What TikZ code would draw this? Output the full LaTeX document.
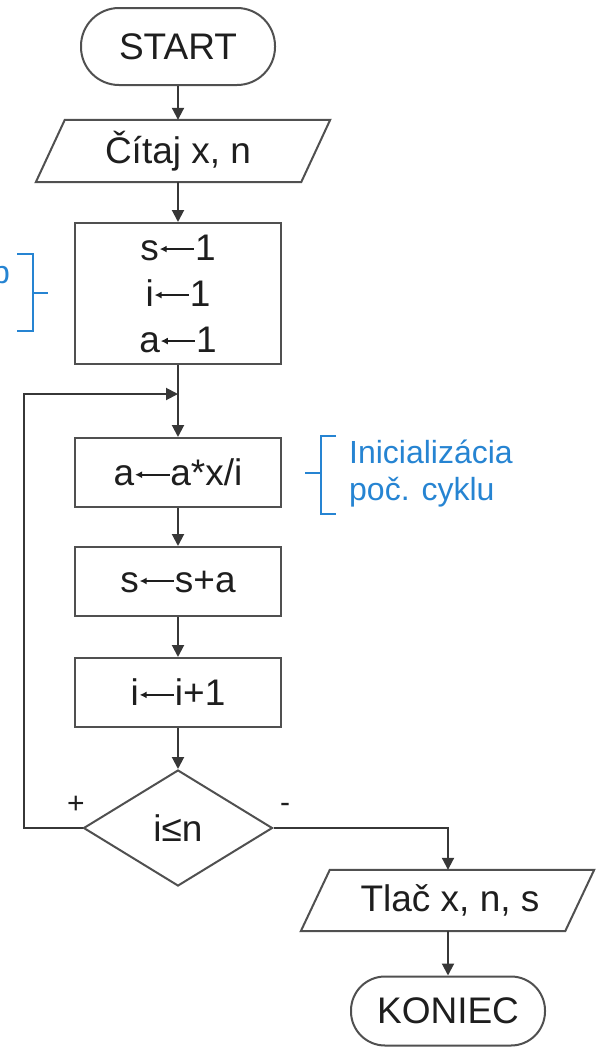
\documentclass[tikz,border=0pt]{standalone}
\usepackage{fontspec}
\setmainfont{Liberation Sans}
\usetikzlibrary{arrows.meta,shapes.geometric,calc}
\definecolor{lncol}{RGB}{55,55,55}
\definecolor{bxcol}{RGB}{80,80,80}
\definecolor{txcol}{RGB}{30,30,30}
\definecolor{ancol}{RGB}{38,132,210}
\newcommand\FMain{\fontsize{37}{46}\selectfont}
\newcommand\FAnn{\fontsize{32}{38}\selectfont}
\newcommand\LArr{\tikz[baseline=0pt,x=1pt,y=1pt]\draw[draw=txcol,line width=1.6pt,{Latex[length=7pt,width=7pt]}-] (0.5,11) -- (35,11);}
\begin{document}
\begin{tikzpicture}[x=1pt,y=-1pt,
  every node/.style={text=txcol,font=\FMain,inner sep=0pt},
  procbox/.style={draw=bxcol,line width=2pt,rectangle,minimum width=206pt,minimum height=69pt},
  termbox/.style={draw=bxcol,line width=2pt,rectangle,minimum width=194pt},
  iobox/.style={rectangle,minimum width=265pt,minimum height=62pt},
  ioline/.style={draw=bxcol,line width=2pt,line join=miter},
  decbox/.style={draw=bxcol,line width=2pt,diamond,minimum width=189pt,minimum height=116pt},
  arr/.style={draw=lncol,line width=2pt,-{Triangle[length=12pt,width=12pt]}},
  plain/.style={draw=lncol,line width=2pt},
  annline/.style={draw=ancol,line width=1.6pt},
  anntext/.style={text=ancol,font=\FAnn}]
\useasboundingbox (0,0) rectangle (596,1053);
% nodes
\node[termbox,minimum height=77pt,rounded corners=38pt] (start) at (178,46.5) {START};
\node[iobox] (read) at (178,151) {Čítaj x, n};
\draw[ioline] ($(read.north west)+(19.5,0)$) -- ($(read.north east)+(19.5,0)$)
  -- ($(read.south east)+(-9.5,0)$) -- ($(read.south west)+(-9.5,0)$) -- cycle;
\node[procbox,minimum height=141pt,align=center] (init) at (178,293.5) {s\LArr1\\i\LArr1\\a\LArr1};
\node[procbox] (calc) at (178,472.5) {a\LArr a*x/i};
\node[procbox] (sum) at (178,581.5) {s\LArr s+a};
\node[procbox] (inc) at (178,692.5) {i\LArr i+1};
\node[decbox] (dec) at (178,828) {i≤n};
\node[iobox,minimum width=264pt,minimum height=61pt] (print) at (450,900.5) {Tlač x, n, s};
\draw[ioline] ($(print.north west)+(12,0)$) -- ($(print.north east)+(12,0)$)
  -- ($(print.south east)+(-17,0)$) -- ($(print.south west)+(-17,0)$) -- cycle;
\node[termbox,minimum height=69pt,rounded corners=34pt] (stop) at (448,1011) {KONIEC};
% labels
\node[font=\fontsize{30}{36}\selectfont] (plus) at (76,805) {+};
\node[font=\fontsize{30}{36}\selectfont] (minus) at (285,808) {-};
% connectors
\coordinate (j) at (178,394);
\coordinate (lp) at (24,394);
\draw[arr] (start.south) -- (start.south |- read.north);
\draw[arr] (start.south |- read.south) -- (init.north);
\draw[plain] (init.south) -- (j);
\draw[arr] (j) -- (calc.north);
\draw[arr] (calc) -- (sum);
\draw[arr] (sum) -- (inc);
\draw[arr] (inc) -- (dec);
\draw[arr] (dec.west) -| (lp) -- (j);
\draw[arr] (dec.east) -| (stop.north |- print.north);
\draw[arr] (stop.north |- print.south) -- (stop.north);
% annotations
\node[anntext,anchor=base east] (pann) at (10,283) {p};
\draw[annline] (17,254) -- (33,254) -- (33,331) -- (17,331);
\draw[annline] (33,293) -- (48,293);
\node[anntext,anchor=base west] (ann1) at (349,463) {Inicializácia};
\node[anntext,anchor=base west] (ann2) at (349,500) {poč. cyklu};
\draw[annline] (336,436) -- (321,436) -- (321,514) -- (336,514);
\draw[annline] (305,473) -- (321,473);
\end{tikzpicture}
\end{document}
